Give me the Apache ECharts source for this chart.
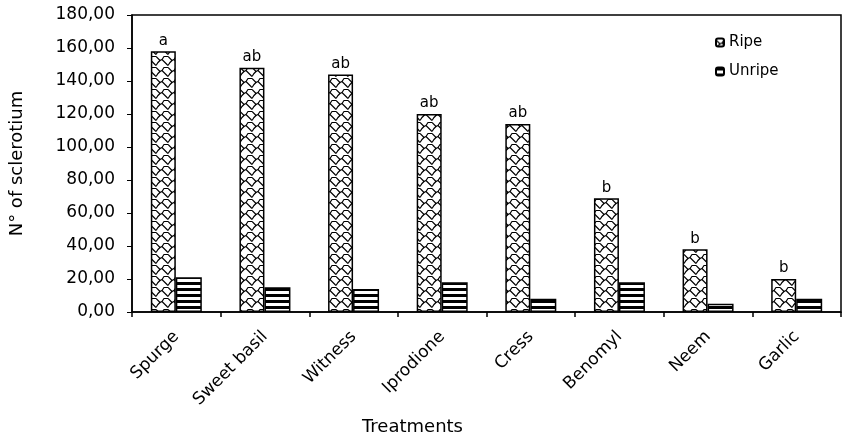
<!DOCTYPE html>
<html>
<head>
<meta charset="utf-8">
<script src="https://cdn.jsdelivr.net/npm/echarts@6/dist/echarts.min.js"></script>
<style>html,body{margin:0;padding:0;background:#fff}#c{width:843px;height:438px}</style>
</head>
<body>
<div id="c"></div>
<script>
const categories = ['Spurge','Sweet basil','Witness','Iprodione','Cress','Benomyl','Neem','Garlic'];
const ripe = [158, 148, 144, 120, 114, 69, 38, 20];
const unripe = [21, 15, 14, 18, 8, 18, 5, 8];
const letters = ['a','ab','ab','ab','ab','b','b','b'];

function stripePattern(){
  const c = document.createElement('canvas'); c.width = 4; c.height = 6;
  const x = c.getContext('2d');
  x.fillStyle = '#fff'; x.fillRect(0,0,4,6);
  x.fillStyle = '#000'; x.fillRect(0,0,4,3);
  return c;
}
function zigPattern(){
  const c = document.createElement('canvas'); c.width = 12; c.height = 11;
  const x = c.getContext('2d');
  x.fillStyle = '#fff'; x.fillRect(0,0,12,11);
  x.strokeStyle = '#000'; x.lineWidth = 1.2;
  x.beginPath();
  x.moveTo(0,1.5); x.lineTo(4,5.5); x.lineTo(6,4.5); x.lineTo(11,9.5); x.lineTo(12,10.5);
  x.moveTo(6,4.5); x.lineTo(8,1.5); x.lineTo(12,1.5);
  x.moveTo(0,10.5); x.lineTo(2,7.5); x.lineTo(4,5.5);
  x.stroke();
  return c;
}

const chart = echarts.init(document.getElementById('c'), null, {renderer:'canvas'});
const font = 'DejaVu Sans, Verdana, sans-serif';
chart.setOption({
  animation: false,
  grid: {left: 132, right: 2, top: 15, bottom: 126, containLabel: false, outerBoundsMode: 'none',
    show: true, borderColor: '#000', borderWidth: 1.5, backgroundColor: '#fff'},
  legend: {
    left: 710, top: 30, orient: 'vertical', itemWidth: 8, itemHeight: 8, itemGap: 14,
    textStyle: {fontFamily: font, fontSize: 15, color: '#000'},
    data: ['Ripe','Unripe']
  },
  xAxis: {
    type: 'category', data: categories,
    axisLine: {lineStyle: {color: '#000', width: 1.5}},
    axisTick: {show: true, length: 5, lineStyle: {color: '#000', width: 1.5}},
    axisLabel: {rotate: 45, margin: 22, fontFamily: font, fontSize: 17, color: '#000'},
    name: 'Treatments', nameLocation: 'middle', nameGap: 106,
    nameTextStyle: {fontFamily: font, fontSize: 18, color: '#000', padding: [0, 148, 0, 0]}
  },
  yAxis: {
    type: 'value', min: 0, max: 180, interval: 20,
    axisLine: {show: true, lineStyle: {color: '#000', width: 1.5}},
    axisTick: {show: true, length: 5, lineStyle: {color: '#000', width: 1}},
    splitLine: {show: false},
    axisLabel: {margin: 17, fontFamily: font, fontSize: 17, color: '#000',
      formatter: v => v.toFixed(2).replace('.', ',')},
    name: 'N° of sclerotium', nameLocation: 'middle', nameGap: 106, nameRotate: 90,
    nameTextStyle: {fontFamily: font, fontSize: 18, color: '#000'}
  },
  series: [
    {
      name: 'Ripe', type: 'bar', data: ripe, barWidth: 25, barGap: '0%',
      itemStyle: {color: {image: zigPattern(), repeat: 'repeat'}, borderColor: '#000', borderWidth: 1.5},
      label: {show: true, position: 'top', distance: 3, fontFamily: font, fontSize: 15, color: '#000',
        formatter: p => letters[p.dataIndex]}
    },
    {
      name: 'Unripe', type: 'bar', data: unripe, barWidth: 26,
      itemStyle: {color: {image: stripePattern(), repeat: 'repeat'}, borderColor: '#000', borderWidth: 1.5}
    }
  ]
});
</script>
</body>
</html>
